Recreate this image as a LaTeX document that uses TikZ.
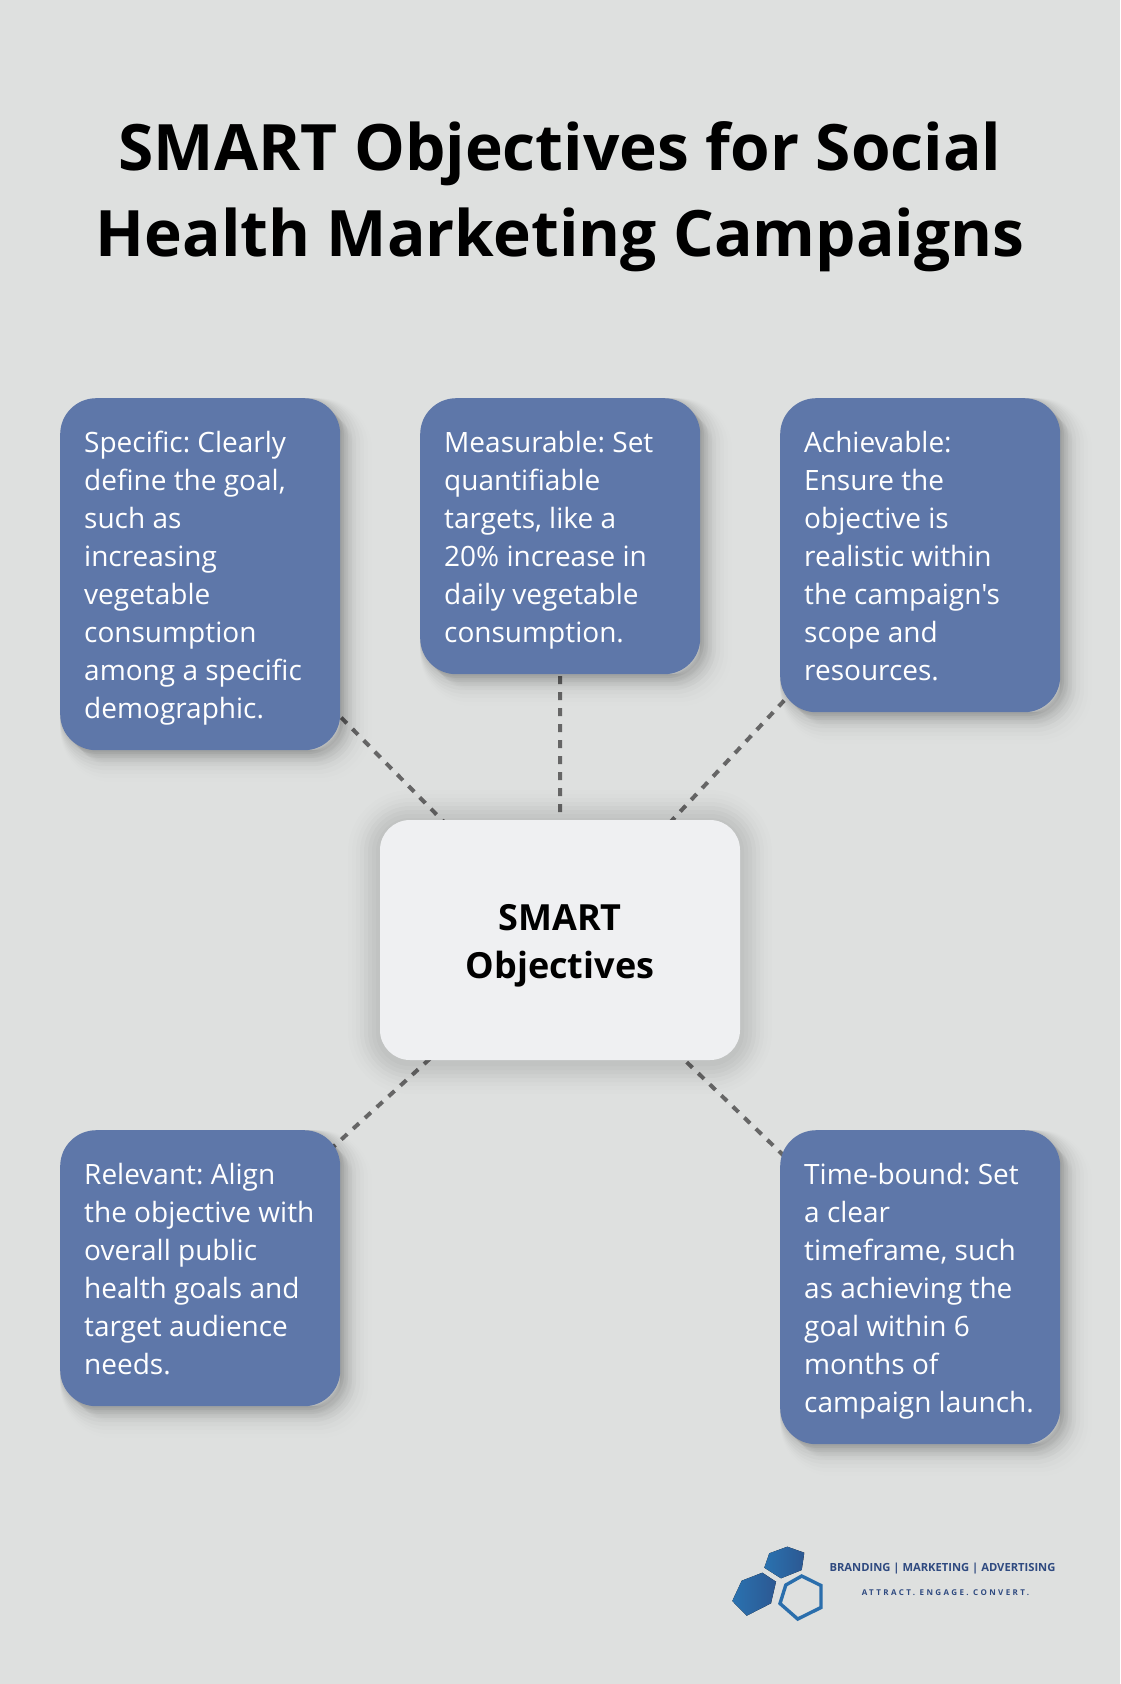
\documentclass[tikz,border=0pt]{standalone}
\usepackage{fontspec}
\setmainfont[Ligatures=TeXOff]{Open Sans}
\newfontfamily\spacedfont[LetterSpace=30]{Open Sans}
\frenchspacing
\usetikzlibrary{backgrounds}
\definecolor{pagegrey}{RGB}{222,224,223}
\definecolor{stepblue}{RGB}{94,119,169}
\definecolor{hubwhite}{RGB}{239,240,242}
\definecolor{linkgrey}{RGB}{102,102,102}
\definecolor{logotext}{RGB}{47,74,128}
\definecolor{logolight}{RGB}{42,114,176}
\definecolor{logodark}{RGB}{44,88,146}
\newcommand{\firststrut}{\spaceskip=7.28pt\relax\rule[-8pt]{0pt}{38pt}}
\newcommand{\laststrut}{\rule[-8pt]{0pt}{8pt}}
\tikzset{
	softband/.style 2 args={preaction={draw=black, fill=black, draw opacity=#2, fill opacity=#2, line width=2*#1pt, transform canvas={shift={(#1pt,-#1pt)}}}},
	softring/.style 2 args={preaction={draw=black, draw opacity=#2, line width=2*#1pt, transform canvas={shift={(0pt,-2pt)}}}},
	blueshadow/.style={softband={16}{.005}, softband={14}{.007}, softband={12}{.011}, softband={10}{.015}, softband={8}{.02}, softband={6}{.024}, softband={4}{.027}, softband={2}{.03}},
	hubshadow/.style={softring={32}{.006}, softring={28}{.008}, softring={24}{.012}, softring={20}{.016}, softring={16}{.02}, softring={12}{.02}, softring={8}{.02}, softring={4}{.02}},
	stepbox/.style={blueshadow, anchor=north west, fill=stepblue, text=white, rounded corners=36pt, inner sep=24pt, text width=232pt, align=left, font=\fontsize{28}{38}\selectfont, execute at begin node=\firststrut, execute at end node=\laststrut},
	hubbox/.style={hubshadow, fill=hubwhite, rounded corners=30pt, minimum width=360pt, minimum height=240pt, inner sep=0pt, align=center, font=\fontsize{36}{48.5}\selectfont\bfseries},
	link/.style={draw=linkgrey, line width=4pt, dash pattern=on 8pt off 8pt},
	logomark/.style={left color=logolight, right color=logodark}
}
\begin{document}
\begin{tikzpicture}[x=1pt, y=-1pt]
	\node[align=center, inner sep=0pt, font=\fontsize{64}{86}\selectfont\bfseries] (title) at (560,197) {SMART Objectives for Social\\Health Marketing Campaigns};

	\node[stepbox] (specific) at (60,398) {Specific: Clearly\\define the goal,\\such as\\increasing\\vegetable\\consumption\\among a specific\\demographic.};
	\node[stepbox] (measurable) at (420,398) {Measurable: Set\\quantifiable\\targets, like a\\20\% increase in\\daily vegetable\\consumption.};
	\node[stepbox] (achievable) at (780,398) {Achievable:\\Ensure the\\objective is\\realistic within\\the campaign's\\scope and\\resources.};
	\node[stepbox] (relevant) at (60,1130) {Relevant: Align\\the objective with\\overall public\\health goals and\\target audience\\needs.};
	\node[stepbox] (timebound) at (780,1130) {Time-bound: Set\\a clear\\timeframe, such\\as achieving the\\goal within 6\\months of\\campaign launch.};
	\node[hubbox] (smart) at (560,940) {\rule{0pt}{38pt}SMART\\Objectives};

	\begin{scope}[on background layer]
		\fill[pagegrey] (0,0) rectangle (1120,1684);
		\draw[link] (smart.center) -- (specific.center);
		\draw[link] (smart.center) -- (measurable.center);
		\draw[link] (smart.center) -- (achievable.center);
		\draw[link] (smart.center) -- (relevant.center);
		\draw[link] (smart.center) -- (timebound.center);
	\end{scope}

	%logo
	\fill[logomark] (787.3,1546.7) -- (804.3,1552.7) -- (801.7,1570) -- (781,1578.3) -- (764.3,1567.7) -- (769.3,1553.3) -- cycle;
	\fill[logomark] (762.3,1572.7) -- (776,1581.7) -- (771,1603.3) -- (746.7,1615.7) -- (732.3,1601) -- (741.7,1580.7) -- cycle;
	\draw[logolight!85!logodark, line width=3.4pt] (801.7,1576) -- (821,1585.5) -- (821,1607.5) -- (797.7,1619) -- (780,1603.5) -- (785.8,1585) -- cycle;
	\node[inner sep=0pt, text=logotext, font=\fontsize{11.2}{13}\selectfont\bfseries] (brand) at (942.5,1569) {BRANDING | MARKETING | ADVERTISING};
	\node[inner sep=0pt, text=logotext, font=\fontsize{8}{8}\selectfont\spacedfont\bfseries] (slogan) at (945.5,1593) {ATTRACT. ENGAGE. CONVERT.};
\end{tikzpicture}
\end{document}
